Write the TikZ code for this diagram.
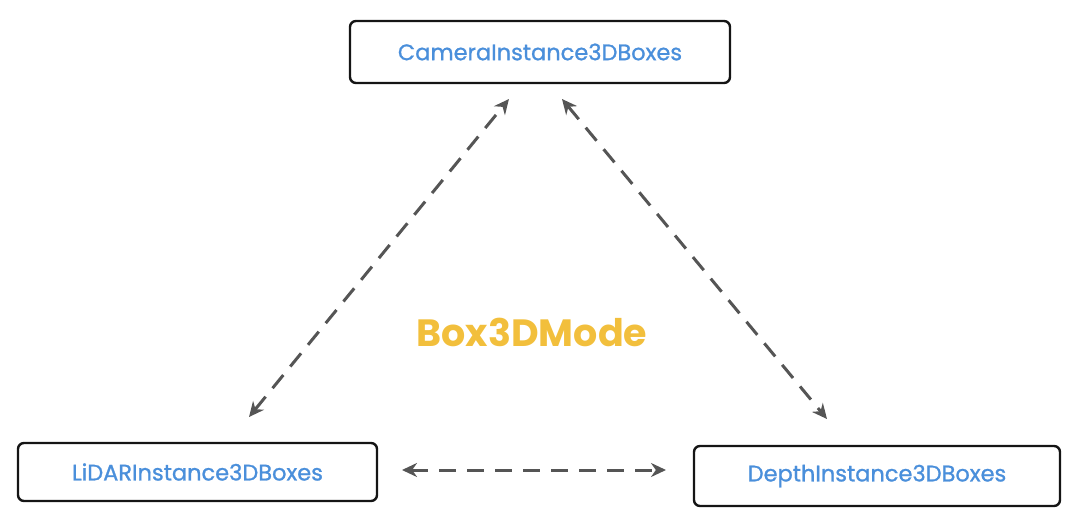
\documentclass[tikz,border=0pt]{standalone}
\usepackage{fontspec}
\setmainfont{Poppins}
\newfontfamily\labelfont{Poppins}[FakeBold=1]
\usetikzlibrary{arrows.meta}
\definecolor{boxblue}{HTML}{4A8FDB}
\definecolor{modeyellow}{HTML}{F2BF3C}
\definecolor{arrowgray}{HTML}{555555}
\definecolor{edge}{HTML}{151515}
\tikzset{
  classbox/.style={draw=edge, line width=2.4pt, rounded corners=6pt, fill=white,
    font=\labelfont\fontsize{22.5}{27}\selectfont, text=boxblue, inner sep=0pt},
  link/.style={draw=arrowgray, line width=3pt, dash pattern=on 17pt off 11pt,
    {Stealth[length=15pt,width=14pt]}-{Stealth[length=15pt,width=14pt]}}
}
\begin{document}
\begin{tikzpicture}[x=1pt,y=-1pt]
\useasboundingbox (0,0) rectangle (1080,532);
\node[classbox, minimum width=380pt, minimum height=62pt] (cam) at (540,52) {CameraInstance3DBoxes};
\node[classbox, minimum width=359pt, minimum height=58pt] (lidar) at (197.5,472) {LiDARInstance3DBoxes};
\node[classbox, minimum width=366pt, minimum height=60pt] (depth) at (877,476) {DepthInstance3DBoxes};
\node[font=\fontsize{38}{44}\selectfont\bfseries, text=modeyellow] (mode) at (532,332) {Box3DMode};
\coordinate (l1) at (249,417);
\coordinate (c1) at (509,99);
\coordinate (c2) at (562,99);
\coordinate (d1) at (827,419);
\coordinate (l2) at (402,470);
\coordinate (d2) at (666,470);
\draw[link] (l1) -- (c1);
\draw[link] (c2) -- (d1);
\draw[link] (l2) -- (d2);
\end{tikzpicture}
\end{document}
